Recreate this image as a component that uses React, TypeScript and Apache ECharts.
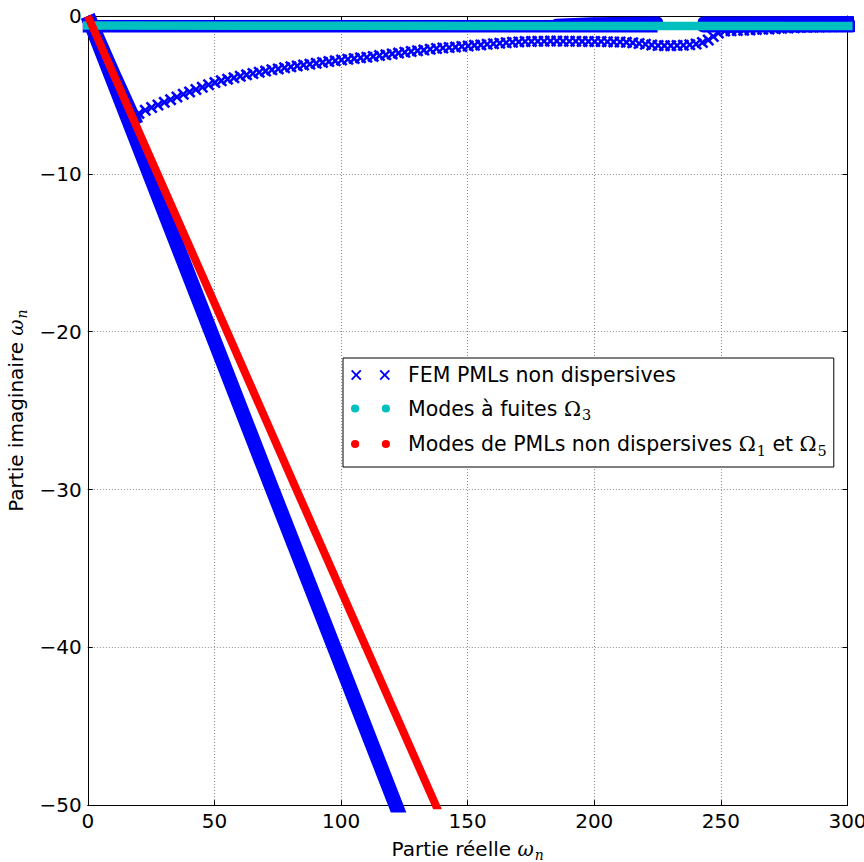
import React, { useEffect, useRef } from "react";
import * as echarts from "echarts";

// ---------- names & ticks ----------
const NAME_FEM = "FEM PMLs non dispersives";
const NAME_LEAKY = "Modes à fuites Ω₃";
const NAME_PML = "Modes de PMLs non dispersives Ω₁ et Ω₅";

const xTicks = [0, 50, 100, 150, 200, 250, 300];
const yTicks = [-50, -40, -30, -20, -10, 0];

// ---------- FEM (blue ×) : sheet branch, individual points ----------
const femCurveRe = [
  20.2, 22.7, 25.2, 27.7, 30.2, 32.7, 35.2, 37.7, 40.2, 42.7,
  45.2, 47.7, 50.2, 52.7, 55.2, 57.7, 60.2, 62.7, 65.2, 67.7,
  70.2, 72.7, 75.2, 77.7, 80.2, 82.7, 85.2, 87.7, 90.2, 92.7,
  95.2, 97.7, 100.2, 102.7, 105.2, 107.7, 110.2, 112.7, 115.2, 117.7,
  120.2, 122.7, 125.2, 127.7, 130.2, 132.7, 135.2, 137.7, 140.2, 142.7,
  145.2, 147.7, 150.2, 152.7, 155.2, 157.7, 160.2, 162.7, 165.2, 167.7,
  170.2, 172.7, 175.2, 177.7, 180.2, 182.7, 185.2, 187.7, 190.2, 192.7,
  195.2, 197.7, 200.2, 202.7, 205.2, 207.7, 210.2, 212.7, 215.2, 217.7,
  220.2, 222.7, 225.2, 227.7, 230.2, 232.7, 235.2, 237.7, 240.2, 242.7,
  245.0, 247.0, 249.0,
  251.5, 254.0, 256.5, 259.0, 261.5, 264.0, 266.5, 269.0, 271.5, 274.0,
  276.5, 279.0, 281.5, 284.0, 286.5, 289.0, 291.5, 294.0, 296.5, 299.0,
];
const femCurveIm = [
  -6.17, -5.97, -5.8, -5.64, -5.47, -5.3, -5.13, -4.96, -4.81, -4.66,
  -4.51, -4.36, -4.22, -4.1, -4.0, -3.91, -3.82, -3.73, -3.64, -3.56,
  -3.49, -3.41, -3.35, -3.28, -3.22, -3.16, -3.1, -3.05, -3.0, -2.94,
  -2.89, -2.84, -2.79, -2.74, -2.7, -2.65, -2.61, -2.56, -2.51, -2.46,
  -2.4, -2.35, -2.3, -2.25, -2.2, -2.16, -2.11, -2.06, -2.03, -2.0,
  -1.97, -1.93, -1.9, -1.86, -1.83, -1.79, -1.76, -1.72, -1.69, -1.66,
  -1.64, -1.62, -1.61, -1.6, -1.6, -1.59, -1.59, -1.6, -1.6, -1.6,
  -1.61, -1.61, -1.62, -1.62, -1.63, -1.64, -1.65, -1.67, -1.7, -1.74,
  -1.79, -1.84, -1.87, -1.88, -1.88, -1.87, -1.85, -1.82, -1.77, -1.68,
  -1.52, -1.3, -1.08,
  -0.95, -0.93, -0.92, -0.9, -0.88, -0.86, -0.84, -0.82, -0.8, -0.78,
  -0.76, -0.74, -0.72, -0.71, -0.7, -0.69, -0.68, -0.67, -0.66, -0.65,
];

// ---------- FEM (blue ×) : dense branches that read as continuous bands ----------
const femPmlRe = [0, 24.3, 48.6, 72.9, 97.3, 121.6, 124.0];
const femPmlIm = [0, -10, -20, -30, -40, -50, -51];
const femNearRe = [0, 10.7, 19.2];
const femNearIm = [0, -3.9, -6.9];
const femTopRe = [-2, 100, 200, 225];
const femTopIm = [-0.655, -0.655, -0.655, -0.655];
const femTop2Re = [243, 302];
const femTop2Im = [-0.655, -0.655];
const femUpperRe = [185, 199, 225];
const femUpperIm = [-0.52, -0.42, -0.38];
const femUpper2Re = [243, 302];
const femUpper2Im = [-0.38, -0.35];

// ---------- leaky modes Ω3 (cyan dots, dense) ----------
const leakyRe = [-2, 100, 200, 302];
const leakyIm = [-0.6, -0.62, -0.63, -0.63];

// ---------- PML modes Ω1 & Ω5 (red dots, dense) ----------
const pmlRe = [0, 27.5, 55.0, 82.4, 109.9, 137.4, 140.1];
const pmlIm = [0, -10, -20, -30, -40, -50, -51];

const zip = (a: number[], b: number[]) => a.map((v, i) => [v, b[i]]);

const BLUE = "#0000ff";
const CYAN = "#00bfbf";
const RED = "#ff0000";

const X_SYMBOL =
  "path://M0,15L15,0L50,35L85,0L100,15L65,50L100,85L85,100L50,65L15,100L0,85L35,50Z";
const X_LEGEND =
  "path://M0,14L14,0L55,41L96,0L110,14L69,55L110,96L96,110L55,69L14,110L0,96L41,55Z" +
  "M300,14L314,0L355,41L396,0L410,14L369,55L410,96L396,110L355,69L314,110L300,96L341,55Z";
const DOT_LEGEND =
  "path://M0,40A40,40 0 1,0 80,40A40,40 0 1,0 0,40Z M300,40A40,40 0 1,0 380,40A40,40 0 1,0 300,40Z";

const richLegend: Record<string, string> = {
  [NAME_FEM]: "{t|FEM PMLs non dispersives}",
  [NAME_LEAKY]: "{t|Modes à fuites }{o|Ω}{s|3}",
  [NAME_PML]: "{t|Modes de PMLs non dispersives }{o|Ω}{s|1}{t| et }{o|Ω}{s|5}",
};

const FONT = "DejaVu Sans";
const LEG_FS = 20.5;
const minus = (v: number) => (v < 0 ? "\u2212" + Math.abs(v) : String(v));

const band = (name: string, data: number[][], color: string, width: number, cap = "butt") => ({
  type: "line",
  name,
  data,
  symbol: "none",
  showSymbol: false,
  silent: true,
  clip: true,
  lineStyle: { color, width, cap },
  itemStyle: { color },
});

const axisNameRich = {
  t: { fontFamily: FONT, fontSize: 20, color: "#000" },
  w: { fontFamily: "DejaVu Serif", fontStyle: "italic", fontSize: 20, color: "#000" },
  n: { fontFamily: "DejaVu Serif", fontStyle: "italic", fontSize: 14, color: "#000", lineHeight: 8, padding: [12, 0, 0, 1] },
};

export default function App() {
  const ref = useRef<HTMLDivElement>(null);
  useEffect(() => {
    if (!ref.current) return;
    const chart = echarts.init(ref.current, undefined, { renderer: "svg" });
    const commonX = {
      type: "value",
      min: xTicks[0],
      max: xTicks[xTicks.length - 1],
      interval: xTicks[1] - xTicks[0],
    };
    const commonY = {
      type: "value",
      min: yTicks[0],
      max: yTicks[yTicks.length - 1],
      interval: yTicks[1] - yTicks[0],
    };
    const axisLine = { show: true, onZero: false, lineStyle: { color: "#000", width: 1 } };
    const axisTick = { show: true, inside: true, length: 5, lineStyle: { color: "#000", width: 1 } };
    const splitLine = { show: true, lineStyle: { color: "#8c8c8c", type: [1, 2], width: 1 } };
    chart.setOption({
      animation: false,
      backgroundColor: "#fff",
      textStyle: { fontFamily: FONT },
      grid: {
        left: 87.8,
        right: 16.5,
        top: 16,
        bottom: 56.8,
        containLabel: false,
        outerBoundsMode: "none",
      },
      legend: {
        orient: "vertical",
        left: 343,
        top: 358,
        selectedMode: false,
        data: [
          { name: NAME_FEM, icon: X_LEGEND, itemStyle: { color: BLUE } },
          { name: NAME_LEAKY, icon: DOT_LEGEND, itemStyle: { color: CYAN } },
          { name: NAME_PML, icon: DOT_LEGEND, itemStyle: { color: RED } },
        ],
        itemWidth: 39,
        itemHeight: 11,
        itemGap: 7.5,
        padding: [5, 7, 9, 8],
        borderColor: "#000",
        borderWidth: 1,
        borderRadius: 0,
        backgroundColor: "#fff",
        formatter: (n: string) => richLegend[n] || n,
        textStyle: {
          fontFamily: FONT,
          fontSize: LEG_FS,
          color: "#000",
          lineHeight: 24,
          padding: [0, 0, 0, 13],
          rich: {
            t: { fontFamily: FONT, fontSize: LEG_FS, color: "#000", lineHeight: 24 },
            o: { fontFamily: "DejaVu Serif", fontSize: LEG_FS, color: "#000", lineHeight: 24 },
            s: { fontFamily: "DejaVu Serif", fontSize: 14.5, color: "#000", lineHeight: 6, padding: [13, 0, 0, 1] },
          },
        },
      },
      xAxis: [
        {
          ...commonX,
          position: "bottom",
          axisLine,
          axisTick,
          splitLine,
          axisLabel: { margin: 6, fontSize: 20, fontFamily: FONT, color: "#000", formatter: minus },
          name: "{t|Partie réelle }{w|ω}{n|n}",
          nameLocation: "middle",
          nameGap: 30,
          nameTextStyle: { fontFamily: FONT, fontSize: 20, color: "#000", rich: axisNameRich },
        },
        {
          ...commonX,
          position: "top",
          axisLine,
          axisTick,
          splitLine: { show: false },
          axisLabel: { show: false },
        },
      ],
      yAxis: [
        {
          ...commonY,
          position: "left",
          axisLine,
          axisTick,
          splitLine,
          axisLabel: { margin: 6, fontSize: 20, fontFamily: FONT, color: "#000", formatter: minus },
          name: "{t|Partie imaginaire }{w|ω}{n|n}",
          nameLocation: "middle",
          nameRotate: 90,
          nameGap: 55,
          nameTextStyle: { fontFamily: FONT, fontSize: 20, color: "#000", rich: axisNameRich },
        },
        {
          ...commonY,
          position: "right",
          axisLine,
          axisTick,
          splitLine: { show: false },
          axisLabel: { show: false },
        },
      ],
      series: [
        band(NAME_FEM, zip(femPmlRe, femPmlIm), BLUE, 14.5),
        band(NAME_FEM, zip(femNearRe, femNearIm), BLUE, 14.5),
        band(NAME_FEM, zip(femTopRe, femTopIm), BLUE, 12.5),
        band(NAME_FEM, zip(femTop2Re, femTop2Im), BLUE, 12.5, "round"),
        band(NAME_FEM, zip(femUpperRe, femUpperIm), BLUE, 11, "round"),
        band(NAME_FEM, zip(femUpper2Re, femUpper2Im), BLUE, 11, "round"),
        {
          type: "scatter",
          name: NAME_FEM,
          data: zip(femCurveRe, femCurveIm),
          symbol: X_SYMBOL,
          symbolSize: 12,
          silent: true,
          itemStyle: { color: BLUE, opacity: 1 },
        },
        band(NAME_LEAKY, zip(leakyRe, leakyIm), CYAN, 8.5),
        band(NAME_PML, zip(pmlRe, pmlIm), RED, 8),
      ],
    });
    return () => chart.dispose();
  }, []);
  return (
    <div
      ref={ref}
      style={{ position: "absolute", left: 0, top: 0, width: 864, height: 862, background: "#fff" }}
    />
  );
}
